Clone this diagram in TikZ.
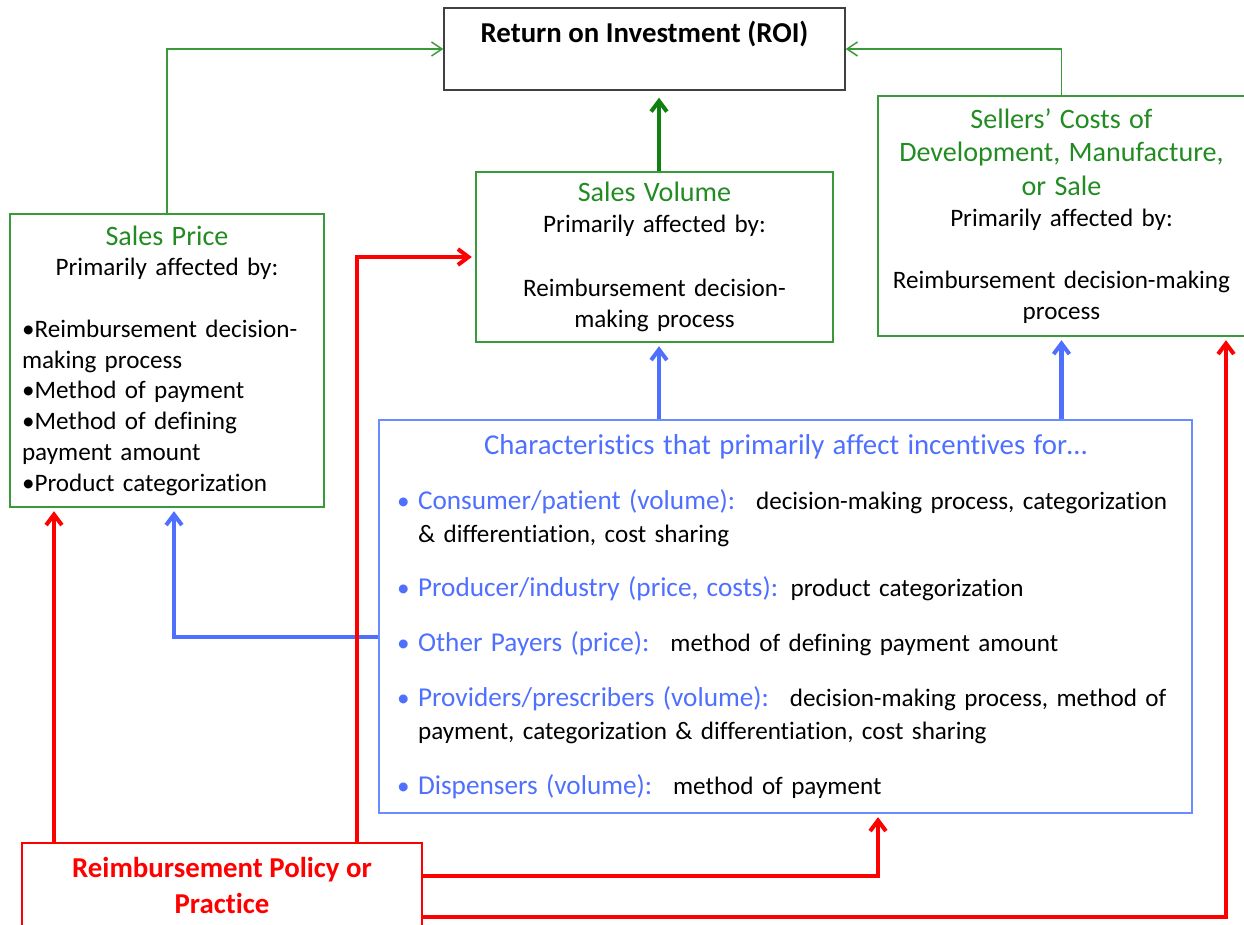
\documentclass[tikz,border=0pt]{standalone}
\usepackage{fontspec}
\setmainfont{Carlito}[Ligatures=NoCommon]
\newfontfamily\widefont{Carlito}[WordSpace=1.8, Ligatures=NoCommon]
\usetikzlibrary{positioning, arrows.meta}
\definecolor{salesgreen}{HTML}{228B22}
\definecolor{boxgreen}{HTML}{3A9A3A}
\definecolor{arrowgreen}{HTML}{108010}
\definecolor{charblue}{HTML}{4F6FFF}
\definecolor{boxblue}{HTML}{6A8CFF}
\definecolor{policyred}{HTML}{FF0000}
\newcommand{\bluetext}[1]{\textcolor{charblue}{\widefont\fontsize{15.5}{18.7}\selectfont #1}}
\newcommand{\greenhead}{\color{salesgreen}\widefont\fontsize{16}{19.3}\selectfont}
\newcommand{\charitem}[1]{\par\vspace{0.44cm}\hangindent=0.42cm\hangafter=1\noindent\makebox[0.42cm][l]{\textcolor{charblue}{•}}#1}

\begin{document}
\begin{tikzpicture}[x=0.02cm, y=-0.02cm]
    \tikzstyle{every node}=[font=\fontsize{14.3}{17.5}\selectfont]
    \tikzstyle{greenbox} = [draw=boxgreen, line width=0.8pt, inner sep=0pt]
    \tikzstyle{thinarrow} = [draw=boxgreen, line width=0.85pt, -{Straight Barb[length=6pt, width=8pt]}]
    \tikzstyle{greenarrow} = [draw=arrowgreen, line width=2.3pt, -{Straight Barb[length=6pt, width=9pt]}, shorten >=4pt]
    \tikzstyle{bluearrow} = [draw=charblue, line width=2.3pt, -{Straight Barb[length=6pt, width=9pt]}, shorten >=2pt]
    \tikzstyle{redarrow} = [draw=policyred, line width=2.3pt, -{Straight Barb[length=6pt, width=9pt]}, shorten >=2pt]

    \useasboundingbox (0,0) rectangle (1244,925);

    % boxes
    \node[draw=black!75, line width=0.8pt, minimum width=8.02cm, minimum height=1.64cm, align=center,
          font=\fontsize{16.4}{19}\selectfont\bfseries] (roi) at (644.5,49) {Return on Investment (ROI)\\ \mbox{}};

    \node[greenbox, minimum width=6.28cm, minimum height=5.86cm, text width=5.8cm] (price) at (167,360.5)
        {{\centering{\greenhead Sales Price}\\ Primarily affected by:\par}
         \raggedright\vspace{17.5pt}
         •Reimbursement decision-\newline making process\newline •Method of payment\newline •Method of defining\newline payment amount\newline •Product categorization\par};

    \node[greenbox, minimum width=7.14cm, minimum height=3.4cm, text width=6.9cm, align=center] (volume) at (654.5,257)
        {{\greenhead Sales Volume}\\ Primarily affected by:\\[19pt]
         Reimbursement decision-\\making process};

    \node[greenbox, minimum width=7.34cm, minimum height=4.8cm, text width=7.3cm] (sellers) at (1061.5,216)
        {\centering{\greenhead Sellers’ Costs of\par
          \makebox[\linewidth][c]{Development, Manufacture,}\par
          or Sale\par}
         Primarily affected by:\par\vspace{18pt}
         Reimbursement decision-making\par process\par};

    \node[draw=boxblue, line width=0.8pt, inner sep=0pt, minimum width=16.26cm, minimum height=7.86cm, text width=15.54cm]
        (chars) at (785.5,616.5)
        {\setlength{\parskip}{0pt}\fontsize{14.3}{18.7}\selectfont
         {\centering\textcolor{charblue}{\widefont\fontsize{16.4}{18.7}\selectfont Characteristics that primarily affect incentives for…}\par}
         \raggedright
         \charitem{\bluetext{Consumer/patient (volume):}\,\, decision-making process, categorization\newline \& differentiation, cost sharing}
         \charitem{\bluetext{Producer/industry (price, costs):} product categorization}
         \charitem{\bluetext{Other Payers (price):}\,\, method of defining payment amount}
         \charitem{\bluetext{Providers/prescribers (volume):}\,\, decision-making process, method of\newline payment, categorization \& differentiation, cost sharing}
         \charitem{\bluetext{Dispensers (volume):}\,\, method of payment}\par};

    \node[draw=policyred, line width=0.8pt, minimum width=8cm, minimum height=1.68cm, align=center, text=policyred,
          font=\fontsize{16.4}{20.5}\selectfont\bfseries] (policy) at (222,885) {Reimbursement Policy or\\ Practice};

    % connector positions
    \coordinate (volx) at (659,0);
    \coordinate (pricebluex) at (174,637);
    \coordinate (pricered) at (54,0);
    \coordinate (volred) at (357,0);
    \coordinate (charred) at (878,876);
    \coordinate (sellred) at (1226,917);

    % green connectors
    \draw[thinarrow] (price.north) |- (roi.west);
    \draw[thinarrow] (sellers.north) |- (roi.east);
    \draw[greenarrow] (volume.north -| volx) -- (roi.south -| volx);

    % blue connectors
    \draw[bluearrow] (chars.north -| volx) -- (volume.south -| volx);
    \draw[bluearrow] (chars.north -| sellers.south) -- (sellers.south);
    \draw[bluearrow] (chars.west |- pricebluex) -| (price.south -| pricebluex);

    % red connectors
    \draw[redarrow] (policy.north -| pricered) -- (price.south -| pricered);
    \draw[redarrow] (policy.north -| volred) |- (volume.west);
    \draw[redarrow] (policy.east |- charred) -| (chars.south -| charred);
    \draw[redarrow] (policy.east |- sellred) -| (sellers.south -| sellred);
\end{tikzpicture}
\end{document}
